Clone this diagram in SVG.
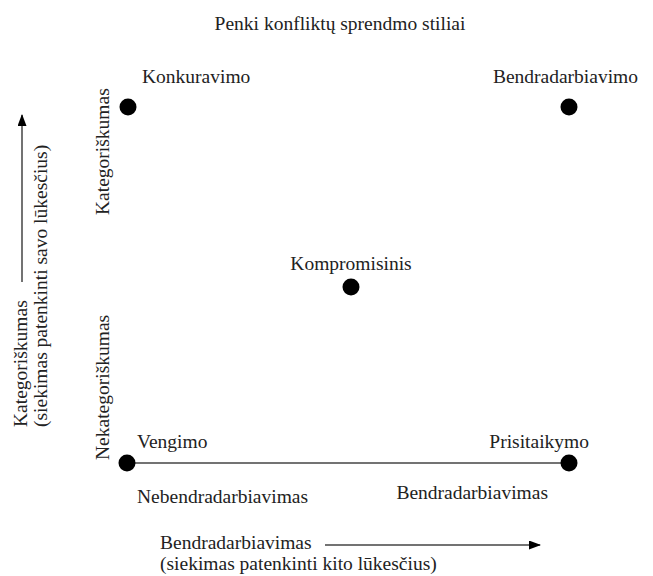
<svg xmlns="http://www.w3.org/2000/svg" width="653" height="576" viewBox="0 0 653 576">
<defs>
<style>
text{font-family:"Liberation Serif","Times New Roman",serif;font-size:19.5px;fill:#222}
.end{text-anchor:end}
.mid{text-anchor:middle}
.dot{fill:#000}
.ln{stroke:#444;stroke-width:1.5;fill:none}
</style>
<marker id="ah" markerWidth="12" markerHeight="9" refX="11" refY="4.5" orient="auto" markerUnits="userSpaceOnUse">
<path d="M0,0 L12,4.5 L0,9 Z" fill="#000"/>
</marker>
</defs>
<rect width="653" height="576" fill="#fff"/>
<text class="mid" x="340" y="30">Penki konfliktų sprendmo stiliai</text>
<g id="connectors">
<line class="ln" x1="127" y1="463" x2="569" y2="463"/>
<line class="ln" x1="22" y1="282" x2="22" y2="115" marker-end="url(#ah)"/>
<line class="ln" x1="325" y1="545" x2="540" y2="545" marker-end="url(#ah)"/>
</g>
<g id="konkuravimo"><circle class="dot" cx="128" cy="107" r="8.5"/><text x="142" y="83">Konkuravimo</text></g>
<g id="bendradarbiavimo"><circle class="dot" cx="569" cy="107" r="8.5"/><text class="end" x="638" y="83">Bendradarbiavimo</text></g>
<g id="kompromisinis"><circle class="dot" cx="351" cy="287" r="8.5"/><text class="mid" x="351" y="270">Kompromisinis</text></g>
<g id="vengimo"><circle class="dot" cx="127" cy="463" r="8.5"/><text x="137" y="448">Vengimo</text></g>
<g id="prisitaikymo"><circle class="dot" cx="569" cy="463" r="8.5"/><text class="end" x="589" y="448">Prisitaikymo</text></g>
<g id="labels">
<text x="137" y="503">Nebendradarbiavimas</text>
<text class="end" x="548" y="499">Bendradarbiavimas</text>
<text x="160" y="549">Bendradarbiavimas</text>
<text x="160" y="570">(siekimas patenkinti kito lūkesčius)</text>
<text transform="translate(109,215) rotate(-90)">Kategoriškumas</text>
<text transform="translate(109,460) rotate(-90)">Nekategoriškumas</text>
<text transform="translate(27,427) rotate(-90)">Kategoriškumas</text>
<text transform="translate(47,427) rotate(-90)">(siekimas patenkinti savo lūkesčius)</text>
</g>
</svg>
